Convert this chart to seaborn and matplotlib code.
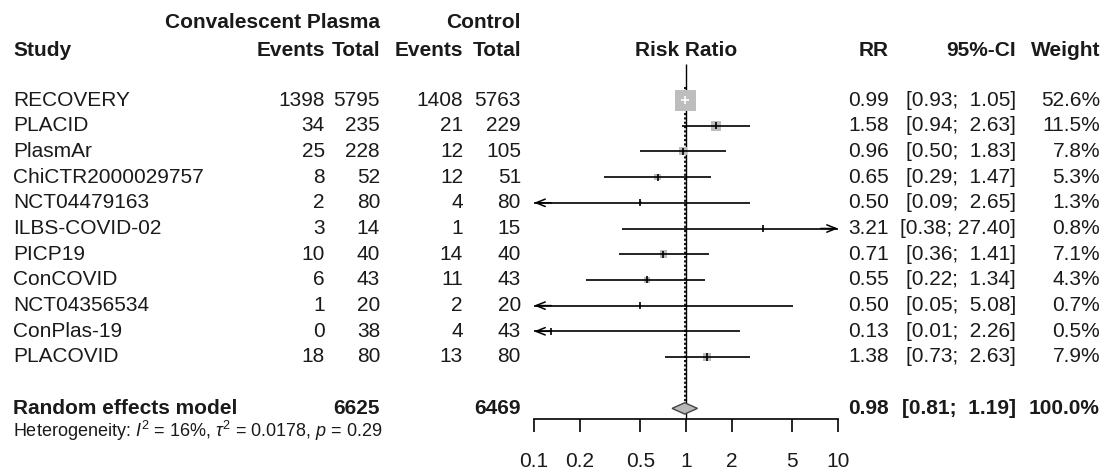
import numpy as np
import pandas as pd
import matplotlib
matplotlib.use("Agg")
import matplotlib.pyplot as plt
import matplotlib.transforms as mtransforms
from matplotlib.ticker import NullLocator
import seaborn as sns

# ===== data =====
studies = ["RECOVERY", "PLACID", "PlasmAr", "ChiCTR2000029757", "NCT04479163",
           "ILBS-COVID-02", "PICP19", "ConCOVID", "NCT04356534", "ConPlas-19", "PLACOVID"]
ev_cp = [1398, 34, 25, 8, 2, 3, 10, 6, 1, 0, 18]
n_cp = [5795, 235, 228, 52, 80, 14, 40, 43, 20, 38, 80]
ev_ctl = [1408, 21, 12, 12, 4, 1, 14, 11, 2, 4, 13]
n_ctl = [5763, 229, 105, 51, 80, 15, 40, 43, 20, 43, 80]
rr = [0.99, 1.58, 0.96, 0.65, 0.50, 3.21, 0.71, 0.55, 0.50, 0.13, 1.38]
ci_lo = [0.93, 0.94, 0.50, 0.29, 0.09, 0.38, 0.36, 0.22, 0.05, 0.01, 0.73]
ci_hi = [1.05, 2.63, 1.83, 1.47, 2.65, 27.40, 1.41, 1.34, 5.08, 2.26, 2.63]
weight = [52.6, 11.5, 7.8, 5.3, 1.3, 0.8, 7.1, 4.3, 0.7, 0.5, 7.9]

pooled_rr, pooled_lo, pooled_hi = 0.98, 0.81, 1.19
pooled_n_cp, pooled_n_ctl = 6625, 6469
het_text = r"Heterogeneity: $I^2$ = 16%, $\tau^2$ = 0.0178, $p$ = 0.29"

xticks = [0.1, 0.2, 0.5, 1, 2, 5, 10]
xticklabels = ["0.1", "0.2", "0.5", "1", "2", "5", "10"]

# ===== style =====
sns.set_theme(style="white")
plt.rcParams['font.family'] = ['Liberation Sans', 'DejaVu Sans']
plt.rcParams['mathtext.fontset'] = 'custom'
plt.rcParams['mathtext.rm'] = 'Liberation Sans'
plt.rcParams['mathtext.it'] = 'Liberation Sans:italic'
plt.rcParams['mathtext.bf'] = 'Liberation Sans:bold'

TXT = "#1a1a1a"
FS = 15
W, H = 1109, 475
ROW0, STEP = 100, 25.7          # pixel centre of first row, row spacing
AX_L, AX_R, AX_Y = 534, 838, 419  # forest axis in pixels


def row_of(py):
    return (py - ROW0) / STEP


df = pd.DataFrame({"study": studies, "rr": rr, "lo": ci_lo, "hi": ci_hi, "w": weight})
df["row"] = np.arange(len(df))
rand_row = len(df) + 1

fig = plt.figure(figsize=(W / 100, H / 100), dpi=100)
ax = fig.add_axes([AX_L / W, (H - AX_Y) / H, (AX_R - AX_L) / W, AX_Y / H])
ax.set_xscale("log")

# squares, area proportional to weight
max_side_pt = 21 * 0.72
sns.scatterplot(data=df, x="rr", y="row", size="w", sizes=(0, max_side_pt ** 2),
                size_norm=(0, max(weight)), marker="s", color="#bdbdbd",
                edgecolor="none", linewidth=0, legend=False, ax=ax, zorder=2)

# CI lines (white when the whole CI sits inside the square)
px_per_dec = (AX_R - AX_L) / 2
half_log = 21 * np.sqrt(df["w"] / max(weight)) / 2 / px_per_dec
inside = ((np.log10(df["rr"]) - np.log10(df["lo"]) < half_log) &
          (np.log10(df["hi"]) - np.log10(df["rr"]) < half_log))
cols = np.where(inside, "white", "black")
lo_c = df["lo"].clip(0.1, 10)
hi_c = df["hi"].clip(0.1, 10)
ax.hlines(df["row"], lo_c, hi_c, colors=cols, lw=1.2, zorder=3)
ax.vlines(df["rr"], df["row"] - 0.14, df["row"] + 0.14, colors=cols, lw=1.2, zorder=3)

# arrows for truncated CIs
arrow = dict(arrowstyle="->,head_length=0.55,head_width=0.22", color="black",
             lw=1.1, shrinkA=0, shrinkB=0)
for _, r in df.iterrows():
    if r["lo"] < 0.1:
        ax.annotate("", xy=(0.1, r["row"]), xytext=(0.13, r["row"]), arrowprops=arrow)
    if r["hi"] > 10:
        ax.annotate("", xy=(10, r["row"]), xytext=(7.7, r["row"]), arrowprops=arrow)

# reference line and random effects line
ax.vlines(1, row_of(64), row_of(AX_Y), color="black", lw=1.0, zorder=1)
ax.vlines(pooled_rr, -0.5, rand_row - 0.21, color="black", lw=1.3,
          linestyles=(0, (1.2, 1.2)), zorder=1)

# diamond
ax.fill([pooled_lo, pooled_rr, pooled_hi, pooled_rr],
        [rand_row, rand_row - 0.22, rand_row, rand_row + 0.22],
        facecolor="#b8b8b8", edgecolor="#444444", lw=1.0, zorder=3)

ax.set_xlim(0.1, 10)
ax.set_ylim(row_of(AX_Y), row_of(0))
ax.set_xlabel("")
ax.set_ylabel("")
ax.set_yticks([])
ax.set_xticks(xticks)
ax.set_xticklabels(xticklabels)
ax.xaxis.set_minor_locator(NullLocator())
for s in ["top", "left", "right"]:
    ax.spines[s].set_visible(False)
ax.spines["bottom"].set_linewidth(1.2)
ax.spines["bottom"].set_color("black")
ax.tick_params(axis="x", bottom=True, direction="out", length=9.5, width=1.2,
               pad=14, labelsize=FS, labelcolor=TXT, color="black")
ax.patch.set_alpha(0)

# ===== text columns =====
tr = mtransforms.blended_transform_factory(fig.transFigure, ax.transData)


def put(px, row, s, ha="right", bold=False, size=FS):
    ax.text(px / W, row, s, transform=tr, ha=ha, va="center", fontsize=size,
            fontweight="bold" if bold else "normal", color=TXT, clip_on=False)


h1, h2 = row_of(23), row_of(50)
put(380, h1, "Convalescent Plasma", bold=True)
put(521, h1, "Control", bold=True)
put(13, h2, "Study", ha="left", bold=True)
put(325, h2, "Events", bold=True)
put(380, h2, "Total", bold=True)
put(463, h2, "Events", bold=True)
put(521, h2, "Total", bold=True)
ax.text(1, h2, "Risk Ratio", ha="center", va="center", fontsize=FS,
        fontweight="bold", color=TXT, clip_on=False)
put(889, h2, "RR", bold=True)
put(1016, h2, "95%-CI", bold=True)
put(1100, h2, "Weight", bold=True)

for i, r in df.iterrows():
    put(13, r["row"], r["study"], ha="left")
    put(325, r["row"], str(ev_cp[i]))
    put(380, r["row"], str(n_cp[i]))
    put(463, r["row"], str(ev_ctl[i]))
    put(521, r["row"], str(n_ctl[i]))
    put(889, r["row"], f"{r['rr']:.2f}")
    put(1016, r["row"], f"[{r['lo']:.2f}; {r['hi']:5.2f}]")
    put(1100, r["row"], f"{r['w']:.1f}%")

put(13, rand_row, "Random effects model", ha="left", bold=True)
put(380, rand_row, str(pooled_n_cp), bold=True)
put(521, rand_row, str(pooled_n_ctl), bold=True)
put(889, rand_row, f"{pooled_rr:.2f}", bold=True)
put(1016, rand_row, f"[{pooled_lo:.2f}; {pooled_hi:5.2f}]", bold=True)
put(1100, rand_row, "100.0%", bold=True)
put(13, row_of(431), het_text, ha="left", size=13)

fig.savefig("out.png", dpi=100)
